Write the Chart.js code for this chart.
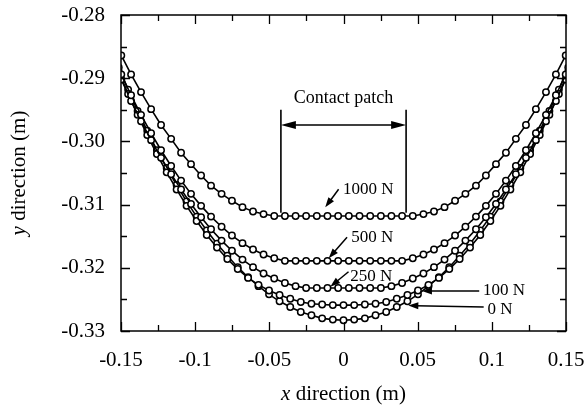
<!DOCTYPE html>
<html><head><meta charset="utf-8">
<script src="https://cdn.jsdelivr.net/npm/chart.js@4/dist/chart.umd.min.js"></script>
<style>html,body{margin:0;padding:0;background:#fff;}#wrap{width:587px;height:409px;position:relative;}</style>
</head><body><div id="wrap"><canvas id="c"></canvas></div>
<script>
// node x positions (m) — half-offset nodes (1000, 500, 250 N)
const xNodesA = [-0.1563,-0.1498,-0.1432,-0.1365,-0.1297,-0.1230,-0.1162,-0.1095,-0.1028,-0.0960,-0.0893,-0.0822,-0.0752,-0.0681,-0.0610,-0.0539,-0.0467,-0.0395,-0.0323,-0.0252,-0.0180,-0.0108,-0.0036,
  0.0036,0.0108,0.0180,0.0252,0.0323,0.0395,0.0467,0.0539,0.0610,0.0681,0.0752,0.0822,0.0893,0.0960,0.1028,0.1095,0.1162,0.1230,0.1297,0.1365,0.1432,0.1498,0.1563];
// centred nodes (100, 0 N)
const xNodesB = [-0.1577,-0.1515,-0.1452,-0.1388,-0.1323,-0.1258,-0.1192,-0.1125,-0.1058,-0.0990,-0.0922,-0.0853,-0.0783,-0.0713,-0.0643,-0.0573,-0.0502,-0.0431,-0.0359,-0.0288,-0.0216,-0.0144,-0.0072,0,
  0.0072,0.0144,0.0216,0.0288,0.0359,0.0431,0.0502,0.0573,0.0643,0.0713,0.0783,0.0853,0.0922,0.0990,0.1058,0.1125,0.1192,0.1258,0.1323,0.1388,0.1452,0.1515,0.1577];

const y1000 = [-0.2833,-0.2864,-0.2894,-0.2922,-0.2949,-0.2974,-0.2996,-0.3018,-0.3036,-0.3054,-0.3070,-0.3083,-0.3094,-0.3104,-0.3111,-0.3115,-0.3118,-0.3118,-0.3118,-0.3118,-0.3118,-0.3118,-0.3118,
  -0.3118,-0.3118,-0.3118,-0.3118,-0.3118,-0.3118,-0.3118,-0.3115,-0.3111,-0.3104,-0.3094,-0.3083,-0.3070,-0.3054,-0.3036,-0.3018,-0.2996,-0.2974,-0.2949,-0.2922,-0.2894,-0.2864,-0.2833];
const y500 = [-0.2859,-0.2894,-0.2927,-0.2958,-0.2987,-0.3014,-0.3039,-0.3062,-0.3083,-0.3102,-0.3119,-0.3135,-0.3149,-0.3161,-0.3171,-0.3179,-0.3185,-0.3189,-0.3189,-0.3189,-0.3189,-0.3189,-0.3189,
  -0.3189,-0.3189,-0.3189,-0.3189,-0.3189,-0.3189,-0.3185,-0.3179,-0.3171,-0.3161,-0.3149,-0.3135,-0.3119,-0.3102,-0.3083,-0.3062,-0.3039,-0.3014,-0.2987,-0.2958,-0.2927,-0.2894,-0.2859];
const y250 = [-0.2866,-0.2902,-0.2936,-0.2968,-0.2998,-0.3026,-0.3052,-0.3076,-0.3099,-0.3120,-0.3139,-0.3157,-0.3173,-0.3187,-0.3199,-0.3209,-0.3217,-0.3224,-0.3229,-0.3232,-0.3232,-0.3232,-0.3232,
  -0.3232,-0.3232,-0.3232,-0.3232,-0.3229,-0.3224,-0.3217,-0.3209,-0.3199,-0.3187,-0.3173,-0.3157,-0.3139,-0.3120,-0.3099,-0.3076,-0.3052,-0.3026,-0.2998,-0.2968,-0.2936,-0.2902,-0.2866];
const y100 = [-0.2854,-0.2890,-0.2925,-0.2958,-0.2990,-0.3020,-0.3049,-0.3076,-0.3102,-0.3126,-0.3148,-0.3168,-0.3186,-0.3202,-0.3216,-0.3227,-0.3236,-0.3243,-0.3249,-0.3254,-0.3257,-0.3258,-0.3259,-0.3259,
  -0.3259,-0.3258,-0.3257,-0.3254,-0.3249,-0.3243,-0.3236,-0.3227,-0.3216,-0.3202,-0.3186,-0.3168,-0.3148,-0.3126,-0.3102,-0.3076,-0.3049,-0.3020,-0.2990,-0.2958,-0.2925,-0.2890,-0.2854];
const y0 = [-0.2847,-0.2883,-0.2918,-0.2952,-0.2983,-0.3014,-0.3042,-0.3069,-0.3095,-0.3119,-0.3141,-0.3162,-0.3181,-0.3199,-0.3215,-0.3229,-0.3242,-0.3253,-0.3262,-0.3270,-0.3275,-0.3280,-0.3282,-0.3283,
  -0.3282,-0.3280,-0.3275,-0.3270,-0.3262,-0.3253,-0.3242,-0.3229,-0.3215,-0.3199,-0.3181,-0.3162,-0.3141,-0.3119,-0.3095,-0.3069,-0.3042,-0.3014,-0.2983,-0.2952,-0.2918,-0.2883,-0.2847];

const seriesNames = ['1000 N','500 N','250 N','100 N','0 N'];

const xTicks = [-0.15,-0.1,-0.05,0,0.05,0.1,0.15];
const xTickLabels = ['-0.15','-0.1','-0.05','0','0.05','0.1','0.15'];
const xMinor = [-0.125,-0.075,-0.025,0.025,0.075,0.125];
const yTicks = [-0.33,-0.32,-0.31,-0.30,-0.29,-0.28];
const yTickLabels = ['-0.33','-0.32','-0.31','-0.30','-0.29','-0.28'];
const yMinor = [-0.325,-0.315,-0.305,-0.295,-0.285];

// annotations in data coordinates
const patchX = [-0.0422, 0.0422];
const patchY = [-0.2950, -0.3113];
const patchArrowY = -0.2974;
const patchText = {text:'Contact patch', x:0, y:-0.2931};
// [label, textX, textY, align, arrowFromX, arrowFromY, arrowTipX, arrowTipY]
const loadLabels = [
  ['1000 N', 0.0167, -0.30769, 'center', -0.0033, -0.30758, -0.0123, -0.31043],
  ['500 N', 0.0194, -0.31528, 'center', 0.0024, -0.31517, -0.0100, -0.31850],
  ['250 N', 0.0187, -0.32146, 'center', 0.0034, -0.32062, -0.0089, -0.32299],
  ['100 N', 0.0940, -0.32367, 'left', 0.0915, -0.32367, 0.0529, -0.32367],
  ['0 N', 0.0970, -0.32668, 'left', 0.0945, -0.32620, 0.0437, -0.32597]
];

const FONT = '"Liberation Serif","Times New Roman",serif';

function pts(xs, ys){ return xs.map((x,i)=>({x:x, y:ys[i]})); }
const curveData = [pts(xNodesA,y1000), pts(xNodesA,y500), pts(xNodesA,y250), pts(xNodesB,y100), pts(xNodesB,y0)];

const datasets = seriesNames.map((n,i)=>({
  label:n, data:curveData[i], borderColor:'#000', borderWidth:1.6,
  pointRadius:3.2, pointBorderWidth:1.5, pointBackgroundColor:'#fff', pointBorderColor:'#000',
  pointHoverRadius:3.2, tension:0, clip:0, fill:false
}));

function arrowHead(ctx, fx, fy, tx, ty, len, hw){
  const a = Math.atan2(ty-fy, tx-fx);
  ctx.beginPath();
  ctx.moveTo(tx, ty);
  ctx.lineTo(tx - len*Math.cos(a) + hw*Math.sin(a), ty - len*Math.sin(a) - hw*Math.cos(a));
  ctx.lineTo(tx - len*Math.cos(a) - hw*Math.sin(a), ty - len*Math.sin(a) + hw*Math.cos(a));
  ctx.closePath(); ctx.fill();
}
function mixedText(ctx, parts, cx, cy, size){
  let w = 0;
  parts.forEach(p=>{ ctx.font = p[1]+' '+size+'px '+FONT; w += ctx.measureText(p[0]).width; });
  let x = cx - w/2;
  ctx.textAlign='left'; ctx.textBaseline='middle';
  parts.forEach(p=>{ ctx.font = p[1]+' '+size+'px '+FONT; ctx.fillText(p[0], x, cy); x += ctx.measureText(p[0]).width; });
}

const decor = {
  id:'decor',
  afterDraw(chart){
    const ctx = chart.ctx, a = chart.chartArea, sx = chart.scales.x, sy = chart.scales.y;
    ctx.save();
    ctx.strokeStyle='#000'; ctx.fillStyle='#000';
    ctx.lineWidth=1.5;
    ctx.strokeRect(a.left, a.top, a.right-a.left, a.bottom-a.top);
    ctx.lineWidth=1.3;
    ctx.beginPath();
    const tick = (vals, len, isX)=>{
      vals.forEach(v=>{
        if(isX){ const p = Math.round(sx.getPixelForValue(v))+0.5;
          ctx.moveTo(p,a.bottom); ctx.lineTo(p,a.bottom-len); ctx.moveTo(p,a.top); ctx.lineTo(p,a.top+len);
        } else { const p = Math.round(sy.getPixelForValue(v))+0.5;
          ctx.moveTo(a.left,p); ctx.lineTo(a.left+len,p); ctx.moveTo(a.right,p); ctx.lineTo(a.right-len,p);
        }
      });
    };
    tick(xTicks,9,true); tick(xMinor,6,true); tick(yTicks,9,false); tick(yMinor,6,false);
    ctx.stroke();

    // contact patch
    ctx.lineWidth=1.6;
    ctx.beginPath();
    patchX.forEach(x=>{ const p=sx.getPixelForValue(x); ctx.moveTo(p, sy.getPixelForValue(patchY[0])); ctx.lineTo(p, sy.getPixelForValue(patchY[1])); });
    const ay = sy.getPixelForValue(patchArrowY);
    const l = sx.getPixelForValue(patchX[0]), r = sx.getPixelForValue(patchX[1]);
    ctx.moveTo(l+8, ay); ctx.lineTo(r-8, ay);
    ctx.stroke();
    arrowHead(ctx, r, ay, l, ay, 15, 4);
    arrowHead(ctx, l, ay, r, ay, 15, 4);
    ctx.font = '18px '+FONT; ctx.textAlign='center'; ctx.textBaseline='middle';
    ctx.fillText(patchText.text, sx.getPixelForValue(patchText.x), sy.getPixelForValue(patchText.y));

    // load labels
    loadLabels.forEach(L=>{
      const fx=sx.getPixelForValue(L[4]), fy=sy.getPixelForValue(L[5]), tx=sx.getPixelForValue(L[6]), ty=sy.getPixelForValue(L[7]);
      const ang=Math.atan2(ty-fy, tx-fx);
      ctx.lineWidth=1.5;
      ctx.beginPath(); ctx.moveTo(fx,fy); ctx.lineTo(tx-7*Math.cos(ang), ty-7*Math.sin(ang)); ctx.stroke();
      arrowHead(ctx, fx, fy, tx, ty, 10, 3.5);
      ctx.font='17px '+FONT; ctx.textAlign=L[3]; ctx.textBaseline='middle';
      ctx.fillText(L[0], sx.getPixelForValue(L[1]), sy.getPixelForValue(L[2]));
    });

    // axis titles
    ctx.fillStyle='#000';
    mixedText(ctx, [['x','italic'],[' direction (m)','normal']], (a.left+a.right)/2, 394, 21);
    ctx.translate(19, (a.top+a.bottom)/2);
    ctx.rotate(-Math.PI/2);
    mixedText(ctx, [['y','italic'],[' direction (m)','normal']], 0, 0, 21);
    ctx.restore();
  }
};

new Chart(document.getElementById('c'), {
  type:'line',
  data:{datasets:datasets},
  options:{
    responsive:true, maintainAspectRatio:false, animation:false,
    layout:{padding:{top:15,right:21,left:0,bottom:0}},
    plugins:{legend:{display:false}, tooltip:{enabled:false}},
    events:[],
    scales:{
      x:{type:'linear', min:-0.15, max:0.15,
        afterBuildTicks:(s)=>{ s.ticks = xTicks.map(v=>({value:v})); },
        afterFit:(s)=>{ s.height = 78; s.paddingLeft = 0; s.paddingRight = 0; },
        grid:{display:false, drawTicks:false}, border:{display:false},
        ticks:{color:'#000', font:{family:FONT, size:21}, padding:17, maxRotation:0, autoSkip:false,
          callback:(v,i)=>xTickLabels[i]}
      },
      y:{type:'linear', min:-0.33, max:-0.28,
        afterBuildTicks:(s)=>{ s.ticks = yTicks.map(v=>({value:v})); },
        afterFit:(s)=>{ s.width = 121; s.paddingTop = 0; s.paddingBottom = 0; },
        grid:{display:false, drawTicks:false}, border:{display:false},
        ticks:{color:'#000', font:{family:FONT, size:21}, padding:16, autoSkip:false,
          callback:(v,i)=>yTickLabels[i]}
      }
    }
  },
  plugins:[decor]
});
</script></body></html>
